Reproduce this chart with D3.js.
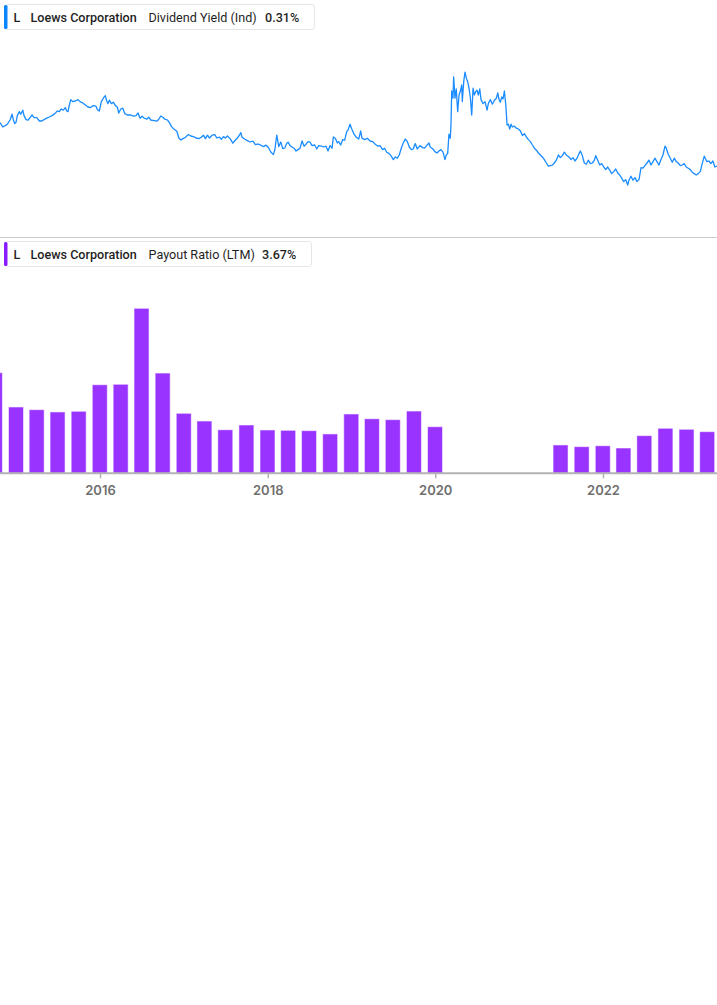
<!DOCTYPE html>
<html>
<head>
<meta charset="utf-8">
<script src="https://cdn.jsdelivr.net/npm/d3@7"></script>
<style>
  html, body { margin: 0; padding: 0; background: #fff; }
  svg { display: block; font-family: Roboto, "Noto Sans", sans-serif; }
</style>
</head>
<body>
<svg id="chart" width="717" height="1005"></svg>
<script>
// ---------- DATA ----------
const yieldTicker = "L";
const yieldCompany = "Loews Corporation";
const yieldMetric = "Dividend Yield (Ind)";
const yieldLast = "0.31%";

const payoutTicker = "L";
const payoutCompany = "Loews Corporation";
const payoutMetric = "Payout Ratio (LTM)";
const payoutLast = "3.67%";

// dividend yield (%) vs decimal year
const yieldDates = [
2014.807,2014.839,2014.867,2014.894,2014.926,2014.950,2014.966,2014.982,2014.998,2015.013,2015.037,2015.054,2015.078,2015.093,2015.117,2015.141,2015.165,2015.189,2015.213,2015.245,2015.276,2015.305,2015.332,2015.364,2015.395,2015.427,2015.460,2015.491,2015.515,2015.538,2015.562,2015.586,2015.603,2015.618,2015.634,2015.651,2015.674,2015.705,2015.738,2015.761,2015.794,2015.825,2015.857,2015.889,2015.920,2015.952,2015.968,2015.992,
2016.016,2016.039,2016.063,2016.080,2016.095,2016.111,2016.135,2016.159,2016.183,2016.206,2016.223,2016.247,2016.271,2016.295,2016.326,2016.366,2016.397,2016.429,2016.453,2016.477,2016.501,2016.525,2016.557,2016.581,2016.605,2016.644,2016.676,2016.700,2016.724,2016.748,2016.772,2016.803,2016.827,2016.851,2016.883,2016.915,2016.939,2016.963,2016.987,
2017.018,2017.050,2017.082,2017.113,2017.145,2017.177,2017.208,2017.232,2017.256,2017.280,2017.304,2017.336,2017.368,2017.392,2017.423,2017.447,2017.471,2017.495,2017.519,2017.551,2017.583,2017.614,2017.638,2017.662,2017.678,2017.694,2017.726,2017.757,2017.789,2017.822,2017.853,2017.885,2017.917,2017.948,2017.980,
2018.012,2018.036,2018.067,2018.084,2018.108,2018.132,2018.156,2018.179,2018.203,2018.227,2018.243,2018.267,2018.290,2018.314,2018.338,2018.362,2018.386,2018.410,2018.434,2018.457,2018.481,2018.505,2018.529,2018.561,2018.585,2018.609,2018.640,2018.672,2018.696,2018.720,2018.744,2018.768,2018.783,2018.807,2018.831,2018.847,2018.871,2018.895,2018.919,2018.943,2018.958,2018.982,
2019.006,2019.030,2019.054,2019.086,2019.110,2019.125,2019.158,2019.189,2019.221,2019.253,2019.284,2019.316,2019.340,2019.372,2019.396,2019.420,2019.451,2019.475,2019.499,2019.523,2019.547,2019.570,2019.594,2019.618,2019.642,2019.666,2019.690,2019.714,2019.737,2019.761,2019.785,2019.817,2019.850,2019.873,2019.897,2019.925,2019.940,2019.972,2019.996,
2020.020,2020.044,2020.068,2020.092,2020.116,2020.131,2020.148,2020.163,2020.179,2020.187,2020.196,2020.211,2020.219,2020.235,2020.250,2020.267,2020.283,2020.298,2020.315,2020.322,2020.339,2020.354,2020.370,2020.386,2020.402,2020.417,2020.434,2020.450,2020.465,2020.482,2020.497,2020.513,2020.530,2020.545,2020.569,2020.593,2020.617,2020.632,2020.656,2020.680,2020.704,2020.728,2020.744,2020.760,2020.775,2020.792,2020.807,2020.823,2020.840,2020.855,2020.871,2020.887,2020.903,2020.918,2020.942,2020.966,2020.990,
2021.014,2021.038,2021.062,2021.085,2021.109,2021.133,2021.157,2021.181,2021.205,2021.229,2021.252,2021.276,2021.300,2021.324,2021.348,2021.372,2021.396,2021.419,2021.443,2021.467,2021.491,2021.515,2021.539,2021.562,2021.595,2021.619,2021.642,2021.666,2021.690,2021.714,2021.730,2021.753,2021.777,2021.801,2021.825,2021.849,2021.873,2021.897,2021.913,2021.937,2021.961,2021.985,
2022.009,2022.033,2022.056,2022.080,2022.104,2022.128,2022.152,2022.176,2022.199,2022.223,2022.247,2022.271,2022.295,2022.310,2022.334,2022.358,2022.382,2022.406,2022.430,2022.454,2022.477,2022.501,2022.525,2022.549,2022.573,2022.597,2022.620,2022.644,2022.668,2022.692,2022.716,2022.740,2022.755,2022.779,2022.803,2022.827,2022.851,2022.875,2022.898,2022.922,2022.946,2022.970,2022.994,
2023.018,2023.042,2023.065,2023.089,2023.113,2023.137,2023.161,2023.185,2023.209,2023.225,2023.241,2023.265,2023.288,2023.312,2023.336,2023.360
];
const yieldValues = [
0.637,0.615,0.622,0.629,0.650,0.679,0.650,0.632,0.639,0.672,0.692,0.679,0.699,0.672,0.652,0.649,0.662,0.675,0.662,0.662,0.645,0.645,0.652,0.659,0.665,0.672,0.682,0.695,0.692,0.705,0.699,0.712,0.695,0.692,0.725,0.752,0.742,0.745,0.752,0.742,0.735,0.725,0.715,0.712,0.722,0.719,0.702,0.695,
0.742,0.759,0.772,0.745,0.732,0.749,0.732,0.739,0.722,0.715,0.685,0.705,0.709,0.682,0.675,0.675,0.669,0.672,0.685,0.659,0.669,0.660,0.654,0.664,0.650,0.647,0.644,0.654,0.670,0.664,0.654,0.650,0.637,0.617,0.604,0.594,0.560,0.550,0.557,
0.564,0.577,0.570,0.567,0.560,0.557,0.564,0.574,0.557,0.574,0.560,0.574,0.577,0.560,0.564,0.554,0.567,0.560,0.570,0.557,0.534,0.550,0.560,0.574,0.587,0.564,0.554,0.547,0.540,0.544,0.527,0.530,0.524,0.517,0.524,
0.510,0.490,0.477,0.500,0.574,0.517,0.540,0.507,0.510,0.534,0.539,0.522,0.515,0.509,0.495,0.502,0.509,0.545,0.519,0.529,0.542,0.539,0.522,0.525,0.505,0.522,0.519,0.515,0.519,0.495,0.522,0.509,0.565,0.559,0.535,0.542,0.525,0.552,0.549,0.592,0.599,0.629,
0.602,0.579,0.565,0.555,0.595,0.559,0.552,0.559,0.545,0.542,0.529,0.519,0.522,0.502,0.509,0.489,0.482,0.469,0.452,0.465,0.459,0.475,0.509,0.535,0.555,0.542,0.515,0.502,0.505,0.532,0.505,0.522,0.512,0.509,0.522,0.535,0.515,0.505,0.492,
0.485,0.495,0.502,0.489,0.452,0.475,0.482,0.579,0.559,0.625,0.795,0.759,0.865,0.759,0.805,0.692,0.775,0.792,0.825,0.742,0.842,0.889,0.859,0.842,0.809,0.765,0.675,0.809,0.775,0.792,0.799,0.775,0.805,0.752,0.732,0.742,0.699,0.732,0.752,0.729,0.749,0.759,0.785,0.752,0.739,0.765,0.755,0.795,0.725,0.625,0.629,0.605,0.629,0.615,0.619,0.609,0.605,
0.595,0.572,0.582,0.565,0.552,0.542,0.525,0.509,0.499,0.485,0.475,0.465,0.452,0.435,0.419,0.422,0.425,0.435,0.449,0.475,0.462,0.472,0.489,0.475,0.465,0.452,0.462,0.445,0.459,0.482,0.495,0.472,0.435,0.429,0.449,0.432,0.435,0.449,0.472,0.449,0.425,0.432,
0.415,0.402,0.415,0.399,0.382,0.392,0.405,0.385,0.375,0.359,0.342,0.352,0.325,0.349,0.369,0.349,0.362,0.342,0.352,0.412,0.409,0.422,0.435,0.449,0.425,0.442,0.459,0.442,0.425,0.452,0.475,0.519,0.509,0.479,0.459,0.439,0.459,0.442,0.435,0.422,0.425,0.432,0.415,
0.409,0.402,0.389,0.382,0.375,0.382,0.392,0.432,0.469,0.455,0.442,0.445,0.432,0.445,0.415,0.419
];

// payout ratio (%) by quarter end (null = not reported)
const payoutDates = [
"2014-09-30","2014-12-31","2015-03-31","2015-06-30","2015-09-30","2015-12-31",
"2016-03-31","2016-06-30","2016-09-30","2016-12-31",
"2017-03-31","2017-06-30","2017-09-30","2017-12-31",
"2018-03-31","2018-06-30","2018-09-30","2018-12-31",
"2019-03-31","2019-06-30","2019-09-30","2019-12-31",
"2020-03-31","2020-06-30","2020-09-30","2020-12-31",
"2021-03-31","2021-06-30","2021-09-30","2021-12-31",
"2022-03-31","2022-06-30","2022-09-30","2022-12-31",
"2023-03-31"
];
const payoutValues = [
8.87,5.85,5.61,5.41,5.47,7.81,
7.85,14.55,8.84,5.29,
4.61,3.84,4.26,3.82,
3.79,3.76,3.47,5.23,
4.81,4.73,5.49,4.11,
null,null,null,null,
null,2.50,2.35,2.43,
2.23,3.32,3.97,3.88,
3.67
];

const xTickYears = [2016, 2018, 2020, 2022];

// ---------- LAYOUT ----------
const W = 717;
const svg = d3.select("#chart");

const fromDecimal = t => {
  const y = Math.floor(t);
  const a = Date.UTC(y, 0, 1), b = Date.UTC(y + 1, 0, 1);
  return new Date(a + (t - y) * (b - a));
};

const x = d3.scaleUtc()
  .domain([new Date(Date.UTC(2016,0,1)), new Date(Date.UTC(2022,0,1))])
  .range([100, 603]);

svg.append("defs").append("clipPath").attr("id", "clip")
  .append("rect").attr("x", 0).attr("y", 0).attr("width", W).attr("height", 1005);

// ---------- TOP PANEL: dividend yield ----------
const yTop = d3.scaleLinear().domain([0.3, 0.9]).range([190, 70]);
const yieldData = yieldDates.map((t, i) => ({ date: fromDecimal(t), value: yieldValues[i] }));

svg.append("g").attr("clip-path", "url(#clip)")
  .append("path")
  .datum(yieldData)
  .attr("fill", "none")
  .attr("stroke", "#1a8cff")
  .attr("stroke-width", 1.3)
  .attr("stroke-linejoin", "round")
  .attr("d", d3.line().x(d => x(d.date)).y(d => yTop(d.value)));

// separator
svg.append("line").attr("x1", 0).attr("x2", W).attr("y1", 237.5).attr("y2", 237.5)
  .attr("stroke", "#cccccc").attr("stroke-width", 1);

// ---------- BOTTOM PANEL: payout ratio ----------
const baseY = 473.3;
const yBot = d3.scaleLinear().domain([0, 16]).range([baseY, baseY - 16 * 11.34]);
const payoutData = payoutDates.map((d, i) => ({ date: d3.utcParse("%Y-%m-%d")(d), value: payoutValues[i] }))
  .filter(d => d.value != null);
const barW = 15;

svg.append("g").attr("clip-path", "url(#clip)")
  .selectAll("rect").data(payoutData).join("rect")
  .attr("x", d => x(d.date) - barW / 2)
  .attr("y", d => yBot(d.value))
  .attr("width", barW)
  .attr("height", d => baseY - yBot(d.value))
  .attr("fill", "#9933ff")
  .attr("stroke", "rgba(255,255,255,0.55)")
  .attr("stroke-width", 1);

// x axis
const axis = d3.axisBottom(x)
  .tickValues(xTickYears.map(y => new Date(Date.UTC(y, 0, 1))))
  .tickFormat(d3.utcFormat("%Y"))
  .tickSizeOuter(0)
  .tickSize(5)
  .tickPadding(7);

const gAx = svg.append("g").attr("transform", `translate(0,${baseY})`).call(axis);
gAx.select(".domain").attr("d", `M0,0H${W}`).attr("stroke", "#b3b3b3").attr("stroke-width", 2);
gAx.selectAll(".tick line").attr("stroke", "#b3b3b3").attr("stroke-width", 1.5);
gAx.selectAll(".tick text")
  .attr("fill", "#6f6f6f")
  .style("font-family", "Inter, 'Noto Sans', sans-serif")
  .style("font-size", "13px")
  .style("font-weight", "600");

// ---------- LEGENDS ----------
function legend(y0, color, ticker, company, metric, last, boxW) {
  const g = svg.append("g").attr("transform", `translate(0,${y0})`);
  g.append("rect").attr("x", 4.5).attr("y", 4.5).attr("width", boxW).attr("height", 25)
    .attr("rx", 3).attr("fill", "#fff").attr("stroke", "#e6e6e6");
  g.append("rect").attr("x", 4).attr("y", 5).attr("width", 3.5).attr("height", 24)
    .attr("rx", 1.5).attr("fill", color);
  const t = (xx, s, w) => g.append("text").attr("x", xx).attr("y", 21.5)
    .attr("fill", "#1f1f1f").style("font-size", "12.6px").style("font-weight", w).text(s);
  t(13.5, ticker, 500);
  t(30.5, company, 500);
  t(148.5, metric, 400);
  const lx = metric.startsWith("Payout") ? 262 : 265;
  t(lx, last, 500);
}
legend(0, "#0a84ff", yieldTicker, yieldCompany, yieldMetric, yieldLast, 310);
legend(237, "#8a1cff", payoutTicker, payoutCompany, payoutMetric, payoutLast, 307);
</script>
</body>
</html>
